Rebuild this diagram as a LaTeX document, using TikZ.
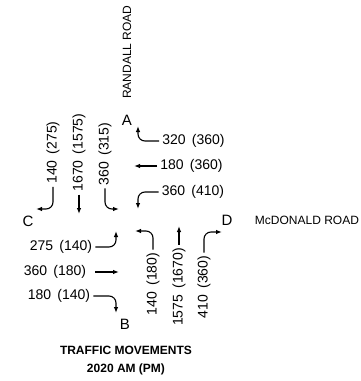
\documentclass[tikz,border=0pt]{standalone}
\usepackage{fontspec}
\setmainfont{Liberation Sans}
\usetikzlibrary{arrows.meta}
\tikzset{
  vol/.style={font=\fontsize{14}{14}\selectfont, inner sep=3pt},
  volv/.style={vol, rotate=90},
  letra/.style={font=\fontsize{15}{15}\selectfont, inner sep=1pt},
  calle/.style={font=\fontsize{12}{12}\selectfont, inner sep=1pt},
  mov/.style={-{Latex[length=6pt,width=4.5pt]}, line width=1.1pt, rounded corners=7pt},
  titulo/.style={font=\bfseries\fontsize{12}{18}\selectfont, align=center},
}

\begin{document}
\begin{tikzpicture}[x=1pt, y=-1pt]
  \useasboundingbox (0,0) rectangle (360,381);
  % calles y accesos
  \node[calle, rotate=90] (randall) at (127,52) {RANDALL ROAD};
  \node[calle] (mcdonald) at (307,220) {McDONALD ROAD};
  \node[letra] (A) at (127,120) {A};
  \node[letra] (B) at (125,324) {B};
  \node[letra] (C) at (28,221) {C};
  \node[letra] (D) at (227,220) {D};
  % volumenes
  \node[vol] (wr) at (193.5,141) {320\,\ (360)};
  \node[vol] (wt) at (191.5,166) {180\,\ (360)};
  \node[vol] (wl) at (193,192) {360\,\ (410)};
  \node[volv] (sr) at (53,152.5) {140\,\ (275)};
  \node[volv] (st) at (79,152.5) {1670\,\ (1575)};
  \node[volv] (sl) at (105,154) {360\,\ (315)};
  \node[vol] (el) at (61,247) {275\,\ (140)};
  \node[vol] (et) at (55,272) {360\,\ (180)};
  \node[vol] (er) at (59,296) {180\,\ (140)};
  \node[volv] (nl) at (153,284) {140\,\ (180)};
  \node[volv] (nt) at (179,287) {1575\,\ (1670)};
  \node[volv] (nr) at (204,287) {410\,\ (360)};
  % puntas de flecha
  \coordinate (twr) at (138,126);
  \coordinate (twt) at (134,166);
  \coordinate (twl) at (138,209);
  \coordinate (tsr) at (36,209);
  \coordinate (tst) at (79,214);
  \coordinate (tsl) at (119,209);
  \coordinate (tel) at (116,231);
  \coordinate (tet) at (119,272);
  \coordinate (ter) at (116,313);
  \coordinate (tnl) at (135,231);
  \coordinate (tnt) at (179,226);
  \coordinate (tnr) at (222,232);
  \draw[mov] (wr.west) -| (twr);
  \draw[mov] (wt.west) -- (twt);
  \draw[mov] (wl.west) -| (twl);
  \draw[mov] (sr.west) |- (tsr);
  \draw[mov] (st.west) -- (tst);
  \draw[mov] (sl.west) |- (tsl);
  \draw[mov] (el.east) -| (tel);
  \draw[mov, shorten <=6pt] (et.east) -- (tet);
  \draw[mov] (er.east) -| (ter);
  \draw[mov] (nl.east) |- (tnl);
  \draw[mov] (nt.east) -- (tnt);
  \draw[mov] (nr.east) |- (tnr);
  \node[titulo] (tit) at (126,361) {TRAFFIC MOVEMENTS\\2020 AM (PM)};
\end{tikzpicture}
\end{document}
